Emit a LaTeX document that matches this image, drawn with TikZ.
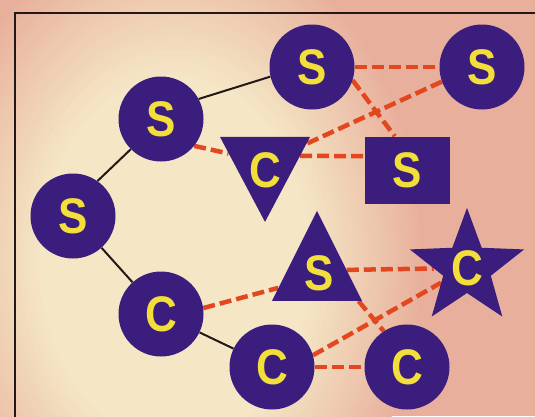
\documentclass[tikz,border=0pt]{standalone}
\usepackage{fontspec}
\newfontfamily\letterfont[FakeStretch=0.88]{Liberation Sans}
\usetikzlibrary{shapes.geometric,backgrounds}
\definecolor{netPurple}{HTML}{3A1D7D}
\definecolor{netYellow}{HTML}{F2DF3A}
\definecolor{netRed}{HTML}{E2471F}
\definecolor{netBlack}{HTML}{231815}
\definecolor{paperPink}{HTML}{E8B09C}
\definecolor{paperCream}{HTML}{F5E9C8}

\begin{document}
\begin{tikzpicture}[x=1pt,y=-1pt,
    letters/.style={text=netYellow,font=\letterfont\bfseries\fontsize{50}{50}\selectfont},
    site/.style={circle,fill=netPurple,minimum size=85pt,inner sep=0pt,letters},
    blob/.style={fill=netPurple,inner sep=0pt},
    bond/.style={draw=netBlack,line width=2pt},
    link/.style={draw=netRed,line width=4.5pt,dash pattern=on 12pt off 5pt}]
    \useasboundingbox (0,0) rectangle (535,416);
    % circles
    \node[site] (sTop) at (312,67) {S};
    \node[site] (sRight) at (482,67) {S};
    \node[site] (sUpper) at (161,119) {S};
    \node[site] (sLeft) at (73,216) {S};
    \node[site] (cLower) at (161,314) {C};
    \node[site] (cBottom) at (272,367) {C};
    \node[site] (cRight) at (407,367) {C};
    % the other shapes
    \node[blob,isosceles triangle,isosceles triangle stretches,shape border rotate=-90,
        minimum width=90pt,minimum height=85pt,label={[letters,yshift=-6pt]center:C}] (cDown) at (265,164) {};
    \node[blob,rectangle,minimum width=85pt,minimum height=67pt,letters] (sBox) at (407,170) {S};
    \node[blob,isosceles triangle,isosceles triangle stretches,shape border rotate=90,
        minimum width=90pt,minimum height=90pt,label={[letters,xshift=2pt]center:S}] (sUp) at (317,273) {};
    \node[blob,star,star points=5,star point ratio=2.4,minimum size=116pt,letters] (cStar) at (467,268) {C};
    \begin{scope}[on background layer]
        \clip (0,0) rectangle (535,416);
        \fill[paperPink] (0,0) rectangle (535,416);
        \foreach \k [evaluate=\k as \pct using int(4*\k)] in {1,...,24}
            \fill[paperCream!\pct!paperPink] (175,260) ellipse ({250*(1-0.019*\k)} and {340*(1-0.019*\k)});
        \draw[line width=2.5pt,netBlack] (15,430) -- (15,13) -- (545,13);
        % solid bonds
        \draw[bond] (sLeft.55) -- (sUpper.225);
        \draw[bond] (sUpper.28) -- (sTop.193);
        \draw[bond] (sLeft) -- (cLower);
        \draw[bond] (cLower) -- (cBottom);
        % dashed links
        \draw[link] (sTop) -- (sRight);
        \draw[link] (sTop.-18) -- (sBox.110);
        \draw[link] (sRight.200) -- (cDown.26);
        \draw[link] (sUpper.-39) -- (cDown.164);
        \draw[link] (cDown.13) -- (sBox.162);
        \draw[link] (cLower.8) -- (sUp.201);
        \draw[link] (sUp.6) -- (cStar);
        \draw[link] (sUp.-34) -- (cRight.123);
        \draw[link] (cBottom.16) -- (cStar);
        \draw[link] (cBottom) -- (cRight);
    \end{scope}
\end{tikzpicture}
\end{document}
